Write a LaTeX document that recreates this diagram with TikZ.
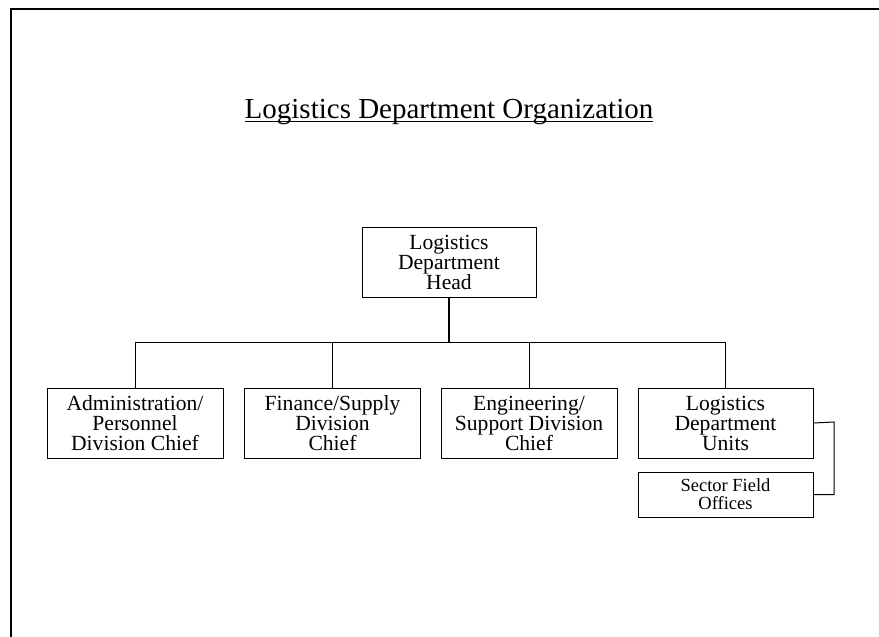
\documentclass[tikz,border=0pt]{standalone}
\usepackage{fontspec}
\setmainfont{Liberation Serif}
\begin{document}
\begin{tikzpicture}[x=1pt,y=-1pt,
  orgbox/.style={draw,line width=1pt,inner sep=0pt,minimum width=176pt,minimum height=70pt,align=center,font=\fontsize{21.6}{20}\selectfont},
  smallbox/.style={draw,line width=1pt,inner sep=0pt,minimum width=175pt,minimum height=45pt,align=center,font=\fontsize{18.5}{18}\selectfont},
  link/.style={line width=1pt},
  frameline/.style={line width=2.2pt}]
\useasboundingbox (0,0) rectangle (879,637);
% frame
\coordinate (fbl) at (11,637);
\coordinate (ftl) at (11,9);
\coordinate (ftr) at (879,9);
\draw[frameline] (fbl) -- (ftl) -- (ftr);
% title
\node[anchor=base,inner sep=0pt,font=\fontsize{29}{30}\selectfont] (title) at (449,118) {Logistics Department Organization};
\draw[line width=1.5pt] ([yshift=-3.5pt]title.base west) -- ([yshift=-3.5pt]title.base east);
% boxes
\node[orgbox,minimum width=174pt] (head) at (449,262.5) {Logistics\\Department\\Head};
\node[orgbox] (admin) at (135,423) {Administration/\\Personnel\\Division Chief};
\node[orgbox] (fin) at (332.5,423) {Finance/Supply\\Division\\Chief};
\node[orgbox] (eng) at (529,423) {Engineering/\\Support Division\\Chief};
\node[orgbox,minimum width=175pt] (units) at (725.5,423) {Logistics\\Department\\Units};
\node[smallbox] (sector) at (725.5,494.5) {Sector Field\\Offices};
% connectors
\coordinate (bus) at (449,342.5);
\draw[line width=2pt] (head.south) -- (bus);
\draw[link] (admin.north) |- (bus) -| (units.north);
\draw[link] (fin.north) -- (fin.north |- bus);
\draw[link] (eng.north) -- (eng.north |- bus);
\coordinate (br) at (834,422);
\draw[link] (units.east) -- (br) -- (br |- sector.east) -- (sector.east);
\end{tikzpicture}
\end{document}
